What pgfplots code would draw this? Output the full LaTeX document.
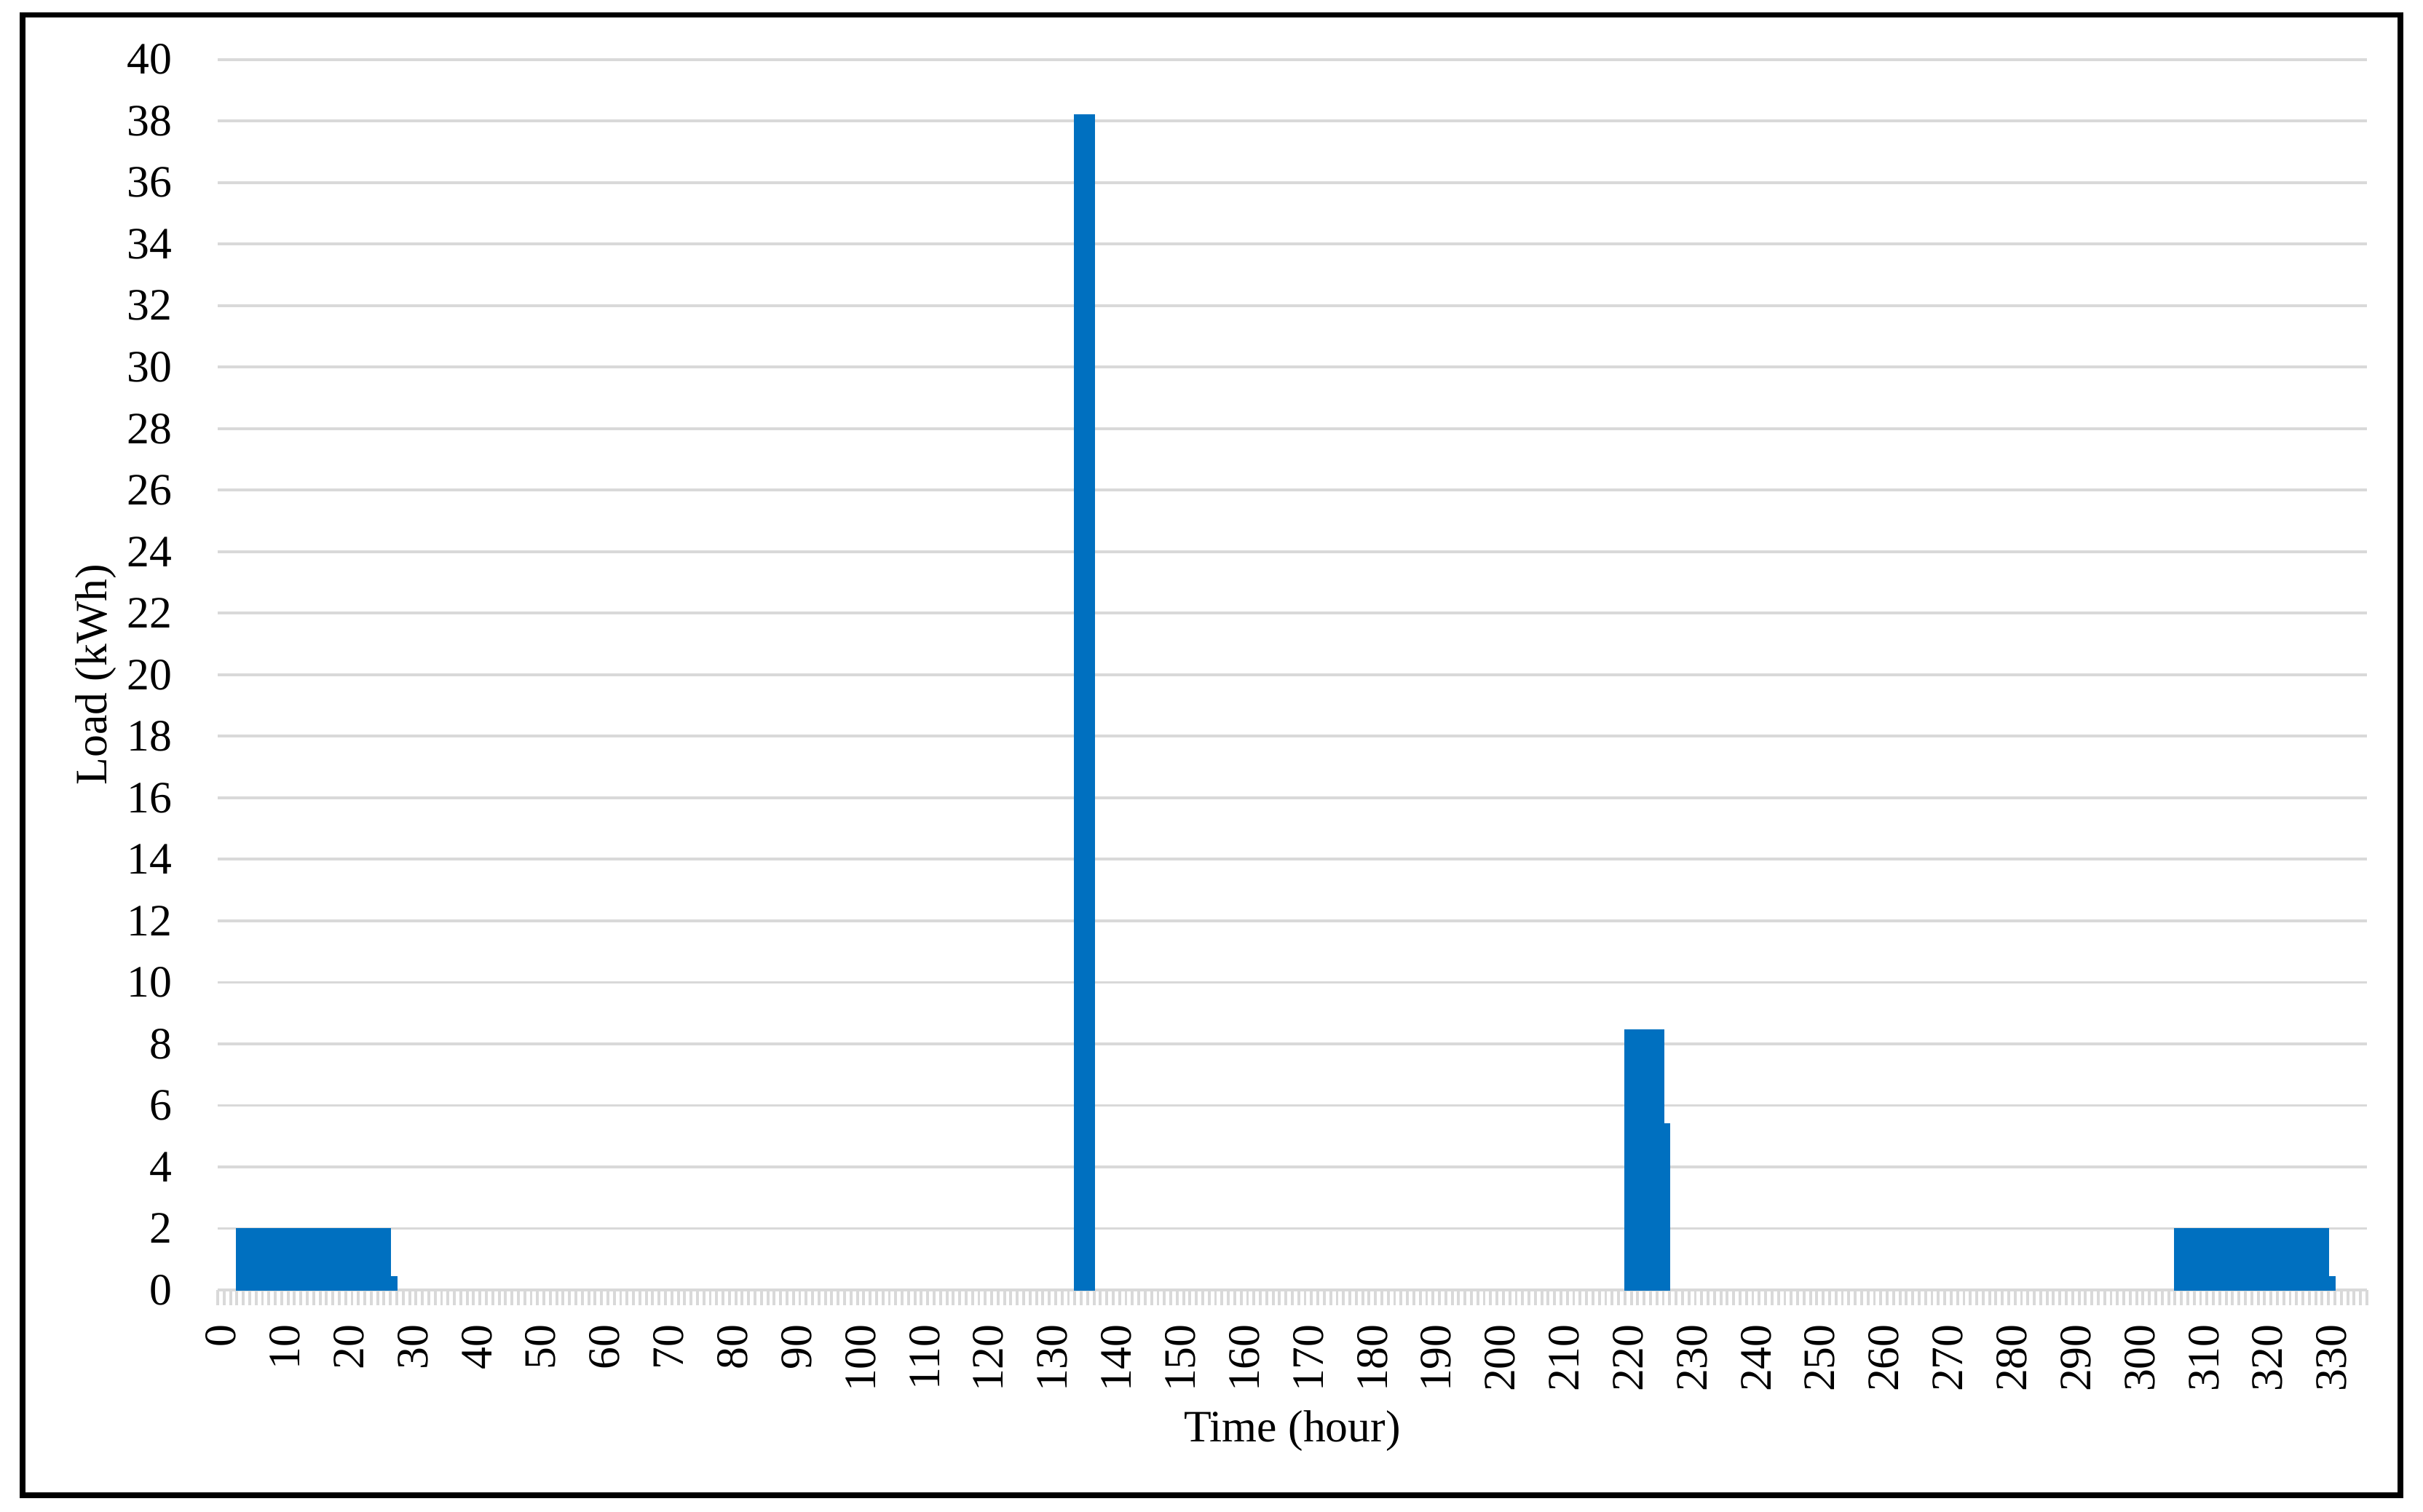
\documentclass[border=0pt]{standalone}
\usepackage{fontspec}
\setmainfont{Liberation Serif}
\usepackage{pgfplots}
\pgfplotsset{compat=1.18}
\usepackage{pgfplotstable}

\definecolor{barblue}{HTML}{0070C0}
\definecolor{gridgray}{HTML}{D9D9D9}

% hourly load, only the non-zero hours (all others are 0)
\pgfplotstableread{
hour load
3 1.98
4 1.98
5 1.98
6 1.98
7 1.98
8 1.98
9 1.98
10 1.98
11 1.98
12 1.98
13 1.98
14 1.98
15 1.98
16 1.98
17 1.98
18 1.98
19 1.98
20 1.98
21 1.98
22 1.98
23 1.98
24 1.98
25 1.98
26 1.98
27 0.43
134 38.2
135 38.2
136 38.2
220 8.45
221 8.45
222 8.45
223 8.45
224 8.45
225 8.45
226 5.4
306 1.98
307 1.98
308 1.98
309 1.98
310 1.98
311 1.98
312 1.98
313 1.98
314 1.98
315 1.98
316 1.98
317 1.98
318 1.98
319 1.98
320 1.98
321 1.98
322 1.98
323 1.98
324 1.98
325 1.98
326 1.98
327 1.98
328 1.98
329 1.98
330 0.43
}\loaddata

\begin{document}
\fontsize{9.5pt}{11pt}\selectfont
\begin{tikzpicture}
\begin{axis}[
    scale only axis,
    width=454.6pt, height=260.3pt,
    xmin=-0.5, xmax=335.5,
    ymin=0, ymax=40,
    clip=false,
    axis x line=bottom, axis y line=left,
    x axis line style={gridgray, line width=0.6pt, -},
    y axis line style={draw=none},
    ytick={0,2,...,40},
    ymajorgrids,
    grid style={gridgray, line width=0.6pt},
    major tick length=0pt,
    major tick style={draw=none},
    xtick={0,10,...,330},
    minor xtick={-0.5,0.5,...,335.5},
    minor tick length=3.2pt,
    minor x tick style={gridgray, line width=0.6pt},
    tick align=outside,
    xticklabel style={rotate=90, anchor=east, inner sep=0pt},
    xticklabel shift=7.1pt,
    yticklabel style={anchor=east, inner sep=0pt},
    yticklabel shift=9.4pt,
    /pgf/number format/assume math mode=true,
    xlabel={Time (hour)},
    ylabel={Load (kWh)},
    every axis x label/.style={at={([yshift=-29.9pt]axis description cs:0.5,0)}, anchor=center},
    every axis y label/.style={at={([xshift=-25.8pt]axis description cs:0,0.5)}, rotate=90, anchor=center},
    ybar, bar width=1,
]
\addplot[fill=barblue, draw=barblue, line width=0.3pt] table[x=hour, y=load]{\loaddata};

% page extent and outer frame
\path ([shift={(-46.05pt,-46.97pt)}]rel axis cs:0,0) rectangle ([shift={(466.47pt,272.89pt)}]rel axis cs:0,0);
\draw[line width=1.2pt] ([shift={(-41.27pt,-43.43pt)}]rel axis cs:0,0) rectangle ([shift={(461.69pt,269.73pt)}]rel axis cs:0,0);
\end{axis}
\end{tikzpicture}
\end{document}
